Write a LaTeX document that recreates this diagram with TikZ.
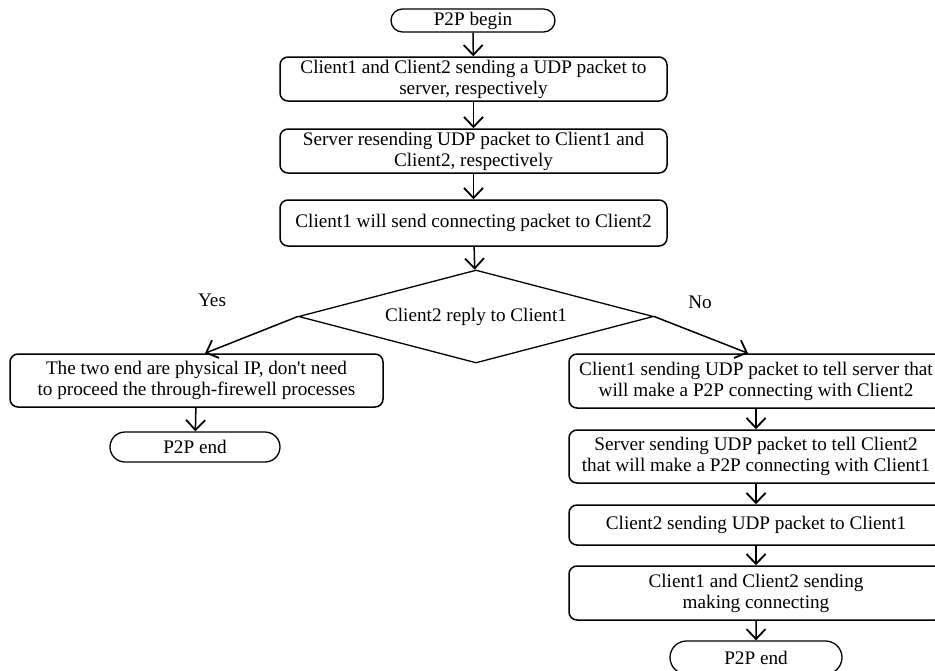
\documentclass[tikz,border=0pt]{standalone}
\usepackage{fontspec}
\setmainfont{Liberation Serif}
\usetikzlibrary{arrows.meta,shapes.geometric,shapes.misc}
\begin{document}
\begin{tikzpicture}[x=1pt,y=-1pt,
  every node/.style={font=\fontsize{19.2}{21}\selectfont},
  proc/.style={draw, line width=1.5pt, rounded corners=8pt, align=center, inner sep=0pt},
  term/.style={draw, line width=1.3pt, rounded rectangle, inner sep=0pt},
  flow/.style={line width=1.5pt, -{Straight Barb[length=10pt,width=19pt,line width=1.8pt]}},
  ]
\clip (0,0) rectangle (935,670);

% main column
\node[term, minimum width=164, minimum height=23] (begin) at (473,20.5) {P2P begin};
\node[proc, minimum width=387, minimum height=44] (s1) at (473.5,79)
  {Client1 and Client2 sending a UDP packet to\\server, respectively};
\node[proc, minimum width=387, minimum height=44] (s2) at (473.5,151)
  {Server resending UDP packet to Client1 and\\Client2, respectively};
\node[proc, minimum width=387, minimum height=46] (s3) at (473.5,223)
  {Client1 will send connecting packet to Client2};
\node[draw, line width=1.3pt, diamond, aspect=3.82, inner sep=0pt, minimum width=355, minimum height=93] (dec) at (476,316.5)
  {Client2 reply to Client1};

% left branch
\node[proc, minimum width=373, minimum height=53] (l1) at (196.5,380.5)
  {The two end are physical IP, don\textquotesingle t need\\to proceed the through-firewell processes};
\node[term, minimum width=170, minimum height=30] (lend) at (195,447) {P2P end};

% right branch
\node[proc, minimum width=374, minimum height=54] (r1) at (756,381)
  {Client1 sending UDP packet to tell server that\\will make a P2P connecting with Client2};
\node[proc, minimum width=374, minimum height=53] (r2) at (756,456.5)
  {Server sending UDP packet to tell Client2\\that will make a P2P connecting with Client1};
\node[proc, minimum width=374, minimum height=40] (r3) at (756,525)
  {Client2 sending UDP packet to Client1};
\node[proc, minimum width=374, minimum height=54] (r4) at (756,593)
  {Client1 and Client2 sending\\making connecting};
\node[term, minimum width=172, minimum height=33] (rend) at (756,657.5) {P2P end};

% branch labels
\node (yes) at (212,300) {Yes};
\node (no) at (700,302) {No};

% connectors
\draw[flow] (begin) -- (s1);
\draw[flow] (s1) -- (s2);
\draw[flow] (s2) -- (s3);
\draw[flow] (s3) -- (dec);
\draw[flow] (dec.west) -- ([xshift=8.5pt]l1.north);
\draw[flow] (l1) -- (lend);
\draw[flow] (dec.east) -- ([xshift=-8pt]r1.north);
\draw[flow] (r1) -- (r2);
\draw[flow] (r2) -- (r3);
\draw[flow] (r3) -- (r4);
\draw[flow] (r4) -- (rend);
\end{tikzpicture}
\end{document}
